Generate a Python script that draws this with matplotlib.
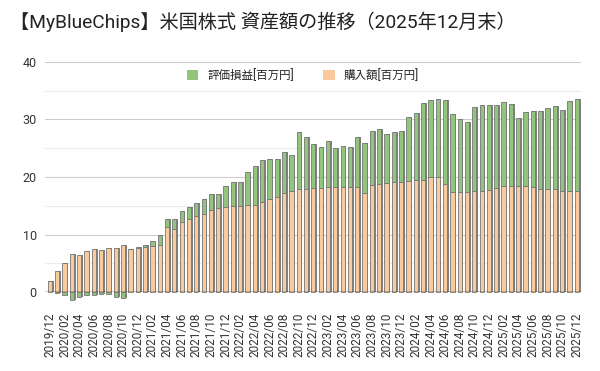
import matplotlib
matplotlib.use("Agg")
import matplotlib.pyplot as plt
import numpy as np
import pandas as pd
from matplotlib.patches import Patch

plt.rcParams['font.family'] = ['Roboto', 'Noto Sans CJK JP', 'DejaVu Sans']

months = [p.strftime('%Y/%m') for p in pd.period_range('2019-12', '2025-12', freq='M')]

purchase = [1.9, 3.65, 5.0, 6.6, 6.4, 7.1, 7.4, 7.25, 7.7, 7.7, 8.1, 7.45, 7.6, 7.8, 8.0, 8.2,
            11.25, 10.96, 12.15, 12.7, 13.2, 13.6, 14.3, 14.65, 14.8, 15.0, 15.0, 15.1, 15.1, 15.6,
            16.2, 16.6, 17.2, 17.6, 17.9, 17.9, 18.1, 18.05, 18.2, 18.25, 18.25, 18.25, 18.3, 17.15,
            18.6, 18.8, 18.95, 19.1, 19.1, 19.3, 19.5, 19.5, 20.0, 20.0, 18.8, 17.4, 17.4, 17.4,
            17.55, 17.55, 17.8, 18.1, 18.45, 18.45, 18.45, 18.45, 18.2, 17.9, 17.9, 17.9, 17.55,
            17.55, 17.55]
gain = [0.05, -0.2, -0.5, -1.45, -0.9, -0.6, -0.6, -0.4, -0.3, -0.9, -1.1, 0.1, 0.2, 0.35, 0.85,
        1.8, 1.5, 1.8, 2.0, 2.0, 2.2, 2.5, 2.7, 2.35, 3.7, 4.05, 4.05, 5.75, 6.75, 7.3, 6.9, 6.5,
        7.1, 6.15, 9.85, 9.0, 7.6, 7.25, 8.0, 6.75, 7.2, 6.9, 8.7, 8.85, 9.45, 9.5, 8.45, 8.8, 8.95,
        11.2, 11.55, 13.45, 13.4, 13.6, 14.6, 13.6, 12.6, 12.2, 14.55, 15.05, 14.65, 14.5, 14.55,
        14.3, 11.85, 12.8, 13.2, 13.5, 14.15, 14.4, 14.05, 15.6, 16.05]

label_gain = '評価損益[百万円]'
label_purchase = '購入額[百万円]'
title = '【MyBlueChips】米国株式 資産額の推移（2025年12月末）'

c_orange = '#f9cb9c'
c_green = '#93c47d'
c_shadow = '#808080'

x = np.arange(len(months))
purchase = np.array(purchase)
gain = np.array(gain)
gain_bottom = np.where(gain > 0, purchase, 0.0)
top = np.maximum(purchase, purchase + gain)
low = np.minimum(0.0, gain)

fig = plt.figure(figsize=(6.0, 3.71), dpi=100)
ax = fig.add_axes([0.075, 0.2129, 0.893, 0.62])

w = 0.58
sh = ax.bar(x + 0.22, top - low, bottom=low, width=w, color=c_shadow, zorder=2, linewidth=0)
b1 = ax.bar(x, purchase, width=w, color=c_orange, edgecolor='#777777', linewidth=0.6, zorder=3)
b2 = ax.bar(x, gain, bottom=gain_bottom, width=w, color=c_green, edgecolor='#777777', linewidth=0.6, zorder=3)
for bc in (sh, b1, b2):
    for p in bc:
        p.set_clip_on(False)

ax.axhline(0, color='black', linewidth=1.0, zorder=5)

ax.set_xlim(-0.68, len(months) - 1 + 0.55)
ax.set_ylim(0, 40)
ax.set_yticks([0, 10, 20, 30, 40])
ax.set_yticks([5, 15, 25, 35], minor=True)
ax.grid(axis='y', which='major', color='#cccccc', linewidth=0.8, zorder=0)
ax.grid(axis='y', which='minor', color='#ebebeb', linewidth=0.8, zorder=0)
ax.set_axisbelow(True)
for s in ax.spines.values():
    s.set_visible(False)
ax.tick_params(axis='y', which='both', length=0, labelsize=9, labelcolor='#333333', pad=6)
ax.set_xticks(x[::2])
ax.set_xticklabels(months[::2], rotation=90, fontsize=8.5, color='#333333')
ax.tick_params(axis='x', length=0, pad=15)

fig.text(0.017, 0.94, title, fontsize=13.8, color='#222222', ha='left', va='center')

handles = [Patch(facecolor=c_green, edgecolor='none'), Patch(facecolor=c_orange, edgecolor='none')]
fig.legend(handles, [label_gain, label_purchase], loc='center', bbox_to_anchor=(0.505, 0.797),
           ncol=2, frameon=False, fontsize=8.3, handlelength=1.0, handleheight=1.0,
           columnspacing=2.5, handletextpad=0.8, labelcolor='#222222')

fig.savefig('out.png', dpi=100)
